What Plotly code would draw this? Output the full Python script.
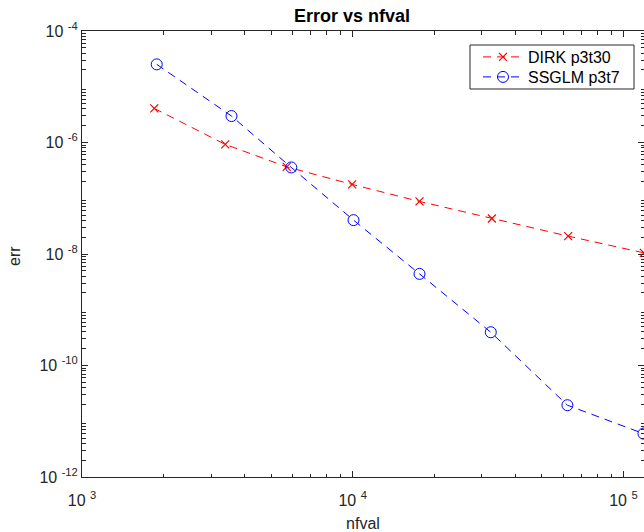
import plotly.graph_objects as go

# Data
dirk_nfval = [1849, 3381, 5704, 9950, 17650, 32660, 62500, 119000]
dirk_err = [4.09e-6, 9.25e-7, 3.66e-7, 1.77e-7, 8.77e-8, 4.34e-8, 2.09e-8, 1.05e-8]
ssglm_nfval = [1888, 3566, 5930, 10070, 17650, 32360, 62100, 118600]
ssglm_err = [2.52e-5, 2.98e-6, 3.57e-7, 4.05e-8, 4.40e-9, 3.95e-10, 1.94e-11, 6.0e-12]

x_tick_exp = [3, 4, 5]
y_tick_exp = [-12, -10, -8, -6, -4]
x_decades = [3, 4, 5]
y_decades = [-12, -11, -10, -9, -8, -7, -6, -5]

x_minor = [m * 10 ** d for d in x_decades for m in range(2, 10)]
y_minor = [m * 10.0 ** d for d in y_decades for m in range(2, 10)]

W, H = 644, 532
L, T, B, R = 82, 31, 55, 0
PW, PH = W - L - R, H - T - B
FONT = "Liberation Sans, Arial, Helvetica, sans-serif"
AX = "#262626"
XR = [3, 5.076]
YR = [-12, -4]


def px_x(p):
    return (p - L) / PW


def px_y(p):
    return 1 - (p - T) / PH


fig = go.Figure()
fig.add_trace(go.Scatter(
    x=dirk_nfval, y=dirk_err, mode="lines+markers", name="DIRK p3t30",
    line=dict(color="#ff0000", width=1, dash="8px,6px"),
    marker=dict(symbol="x-thin-open", size=8, color="#ff0000",
                line=dict(color="#ff0000", width=1.2)),
    cliponaxis=False, legend="legend",
))
fig.add_trace(go.Scatter(
    x=ssglm_nfval, y=ssglm_err, mode="lines+markers", name="SSGLM p3t7",
    line=dict(color="#0000ff", width=1, dash="8px,6px"),
    marker=dict(symbol="circle-open", size=11, color="#0000ff",
                line=dict(color="#0000ff", width=1)),
    cliponaxis=False, legend="legend2",
))
# empty trace that carries the minor-tick overlay axes
fig.add_trace(go.Scatter(x=[], y=[], xaxis="x2", yaxis="y2", showlegend=False,
                         hoverinfo="skip"))

axis_common = dict(
    type="log", showgrid=False, zeroline=False,
    showline=True, linecolor=AX, linewidth=1, mirror="ticks",
    ticks="inside", tickcolor=AX, tickwidth=1,
    tickfont=dict(family=FONT, size=16, color=AX),
)

fig.update_layout(
    xaxis=dict(**axis_common, range=XR, ticklen=6, ticklabelstandoff=9,
               tickmode="array", tickvals=[10.0 ** e for e in x_tick_exp],
               ticktext=[f"10 <sup>{e}</sup>" for e in x_tick_exp],
               title=dict(text="nfval", font=dict(family=FONT, size=16, color=AX),
                          standoff=10)),
    yaxis=dict(**axis_common, range=YR, ticklen=6,
               tickmode="array", tickvals=[10.0 ** e for e in y_tick_exp],
               ticktext=[f"10 <sup>{e}</sup>" for e in y_tick_exp]),
    xaxis2=dict(**axis_common, range=XR, ticklen=3.5, overlaying="x", anchor="y2",
                tickmode="array", tickvals=x_minor, showticklabels=False),
    yaxis2=dict(**axis_common, range=YR, ticklen=3.5, overlaying="y", anchor="x2",
                tickmode="array", tickvals=y_minor, showticklabels=False),
)

legend_common = dict(xanchor="left", yanchor="top", borderwidth=0,
                     bgcolor="rgba(0,0,0,0)",
                     font=dict(family=FONT, size=16, color="black"),
                     itemwidth=40, tracegroupgap=0)

fig.update_layout(
    width=W, height=H,
    margin=dict(l=L, r=R, t=T, b=B, pad=0),
    paper_bgcolor="white", plot_bgcolor="white",
    title=dict(text="<b>Error vs nfval</b>", x=px_x(352), xref="paper",
               xanchor="center", y=1 - 16 / H, yanchor="middle",
               font=dict(family=FONT, size=18, color="black")),
    legend=dict(**legend_common, x=px_x(478), y=px_y(40)),
    legend2=dict(**legend_common, x=px_x(478), y=px_y(60)),
    showlegend=True,
    shapes=[dict(type="rect", xref="paper", yref="paper",
                 x0=px_x(470), x1=px_x(634), y0=px_y(89), y1=px_y(45),
                 line=dict(color=AX, width=1), fillcolor="white", layer="below")],
    annotations=[dict(text="err", textangle=-90, xref="paper", yref="paper",
                      x=px_x(14), y=px_y(256), xanchor="center", yanchor="middle",
                      showarrow=False, font=dict(family=FONT, size=16, color=AX))],
)

fig.write_html("out.html")
